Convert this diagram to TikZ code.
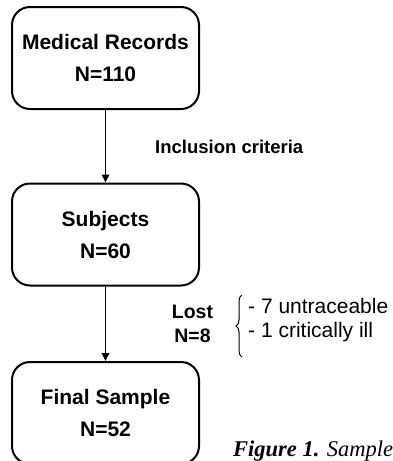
\documentclass[tikz,border=0pt]{standalone}
\usepackage{fontspec}
\setmainfont{Liberation Sans}
\newfontfamily\capfont{Liberation Serif}
\usetikzlibrary{arrows.meta,decorations.pathreplacing}
\begin{document}
\begin{tikzpicture}[x=1pt,y=-1pt,
    stagebox/.style={draw, line width=2pt, rounded corners=18pt,
      minimum width=187pt, minimum height=102pt, align=center,
      font=\fontsize{21}{32}\selectfont\bfseries},
    flow/.style={line width=1.8pt, -{Triangle[length=8pt,width=7.5pt]}},
    note/.style={inner sep=0pt, anchor=base west}]
    \clip (0,0) rectangle (393,461);
    \node [stagebox] (records) at (105.5,58) {Medical Records\\N=110};
    \node [stagebox] (subjects) at (105.5,234.5) {Subjects\\N=60};
    \node [stagebox] (final) at (105.5,413) {Final Sample\\N=52};
    \draw [flow] (records) -- (subjects);
    \draw [flow] (subjects) -- (final);
    \node [note, font=\fontsize{18.5}{22}\selectfont\bfseries] (incl) at (155,153) {Inclusion criteria};
    % lost subjects and reasons
    \node [inner sep=0pt, anchor=base, font=\fontsize{19.5}{24}\selectfont\bfseries] (lost) at (192.5,318) {Lost};
    \node [inner sep=0pt, anchor=base, font=\fontsize{19.5}{24}\selectfont\bfseries] (lostn) at (192.5,342) {N=8};
    \draw [line width=1pt, decorate, decoration={brace, amplitude=6pt}] (242,357) -- (242,295);
    \node [note, font=\fontsize{21}{24}\selectfont] (untrace) at (248,313) {- 7 untraceable};
    \node [note, font=\fontsize{21}{24}\selectfont] (ill) at (248,337) {- 1 critically ill};
    \node [note, font=\fontsize{22.5}{24}\selectfont\capfont\itshape] (caption) at (233,456) {\textbf{Figure 1.} Sample};
\end{tikzpicture}
\end{document}
